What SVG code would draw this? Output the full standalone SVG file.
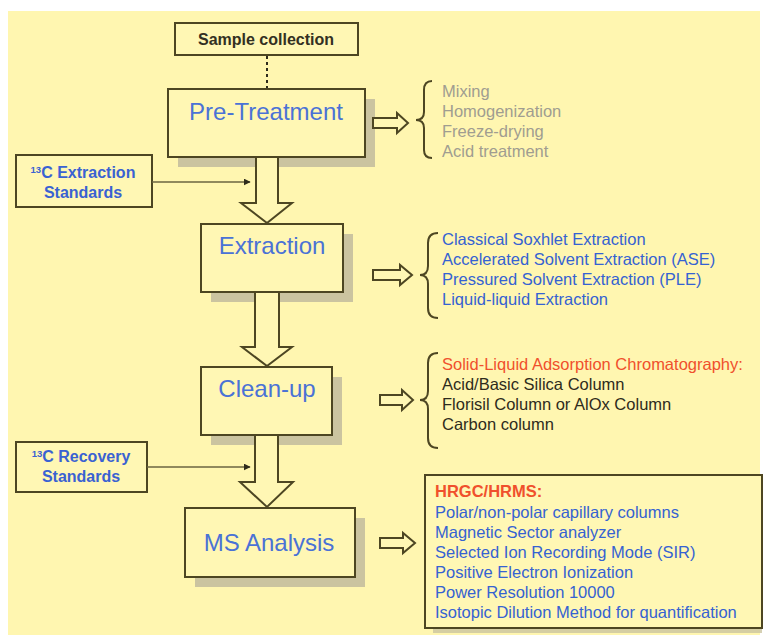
<svg xmlns="http://www.w3.org/2000/svg" width="765" height="643" viewBox="0 0 765 643">
<defs>
<style>
.bg{fill:#fff6b0}
.box{fill:#fff7b4;stroke:#4d4622;stroke-width:2}
.sh{fill:#cbc4a0}
.hollow{fill:#fff7b4;stroke:#4d4622;stroke-width:2;stroke-linejoin:miter}
.brace{fill:none;stroke:#4d4622;stroke-width:2}
.title{font-family:"Liberation Sans",Arial,sans-serif;font-size:24px;fill:#4a72d6;text-anchor:middle}
.std{font-family:"Liberation Sans",Arial,sans-serif;font-size:16px;font-weight:bold;fill:#3a62d2;text-anchor:middle}
.li{font-family:"Liberation Sans",Arial,sans-serif;font-size:16.5px}
.gray{fill:#a09d90}
.blue{fill:#3562d2}
.dark{fill:#2e2b1c}
.red{fill:#f0502c}
.thin{stroke:#6b6540;stroke-width:1.3;fill:none}
</style>
<marker id="ah" viewBox="0 0 10 10" refX="9" refY="5" markerWidth="7" markerHeight="7" orient="auto" markerUnits="userSpaceOnUse">
<path d="M0,0 L10,5 L0,10 Z" fill="#2e2b1c"/>
</marker>
</defs>
<rect x="0" y="0" width="765" height="643" fill="#ffffff"/>
<rect class="bg" x="8" y="11" width="752" height="624"/>

<g id="sample-collection">
<rect class="box" x="175" y="23" width="183" height="32"/>
<text x="266" y="45" font-family="'Liberation Sans',Arial,sans-serif" font-size="16" font-weight="bold" fill="#333022" text-anchor="middle">Sample collection</text>
</g>

<g id="pre-treatment">
<rect class="sh" x="178" y="99" width="197" height="68"/>
<rect class="box" x="168" y="89" width="197" height="68"/>
<text class="title" x="266" y="120">Pre-Treatment</text>
</g>

<g id="extraction">
<rect class="sh" x="211" y="234" width="142" height="68"/>
<rect class="box" x="201" y="224" width="142" height="68"/>
<text class="title" x="272" y="254">Extraction</text>
</g>

<g id="clean-up">
<rect class="sh" x="211" y="377" width="131" height="68"/>
<rect class="box" x="201" y="367" width="131" height="68"/>
<text class="title" x="267" y="397">Clean-up</text>
</g>

<g id="ms-analysis">
<rect class="sh" x="195" y="518" width="170" height="69"/>
<rect class="box" x="185" y="508" width="170" height="69"/>
<text class="title" x="269" y="551">MS Analysis</text>
</g>

<g id="extraction-standards">
<rect class="box" x="16" y="155" width="136" height="52"/>
<text class="std" x="83" y="178"><tspan font-size="9.5" dy="-5">13</tspan><tspan dy="5">C Extraction</tspan></text>
<text class="std" x="83" y="198">Standards</text>
</g>

<g id="recovery-standards">
<rect class="box" x="16" y="442" width="131" height="50"/>
<text class="std" x="81" y="462"><tspan font-size="9.5" dy="-5">13</tspan><tspan dy="5">C Recovery</tspan></text>
<text class="std" x="81" y="482">Standards</text>
</g>

<g id="pretreatment-list">
<path class="brace" d="M432,81 Q424,81 424,90 L424,112 Q424,120 416,120 Q424,120 424,128 L424,150 Q424,158 432,158"/>
<text class="li gray" x="442" y="97">Mixing</text>
<text class="li gray" x="442" y="117">Homogenization</text>
<text class="li gray" x="442" y="137">Freeze-drying</text>
<text class="li gray" x="442" y="157">Acid treatment</text>
</g>

<g id="extraction-list">
<path class="brace" d="M438,233 Q428,233 428,243 L428,266 Q428,275 420,275 Q428,275 428,284 L428,308 Q428,318 438,318"/>
<text class="li blue" x="442" y="245">Classical Soxhlet Extraction</text>
<text class="li blue" x="442" y="265">Accelerated Solvent Extraction (ASE)</text>
<text class="li blue" x="442" y="285">Pressured Solvent Extraction (PLE)</text>
<text class="li blue" x="442" y="305">Liquid-liquid Extraction</text>
</g>

<g id="cleanup-list">
<path class="brace" d="M438,353 Q428,353 428,363 L428,391 Q428,400 420,400 Q428,400 428,409 L428,438 Q428,448 438,448"/>
<text class="li red" x="442" y="370">Solid-Liquid Adsorption Chromatography:</text>
<text class="li dark" x="442" y="390">Acid/Basic Silica Column</text>
<text class="li dark" x="442" y="410">Florisil Column or AlOx Column</text>
<text class="li dark" x="442" y="430">Carbon column</text>
</g>

<g id="hrgc-hrms">
<rect class="sh" x="433" y="483" width="329" height="150" opacity="0.8"/>
<rect class="box" x="425" y="475" width="337" height="153"/>
<text class="li red" x="435" y="497" font-weight="bold" font-size="17">HRGC/HRMS:</text>
<text class="li blue" x="435" y="518">Polar/non-polar capillary columns</text>
<text class="li blue" x="435" y="538">Magnetic Sector analyzer</text>
<text class="li blue" x="435" y="558">Selected Ion Recording Mode (SIR)</text>
<text class="li blue" x="435" y="578">Positive Electron Ionization</text>
<text class="li blue" x="435" y="598">Power Resolution 10000</text>
<text class="li blue" x="435" y="618">Isotopic Dilution Method for quantification</text>
</g>

<g id="connectors">
<line x1="267" y1="56" x2="267" y2="88" stroke="#2e2b1c" stroke-width="2" stroke-dasharray="3,3"/>
<path class="hollow" d="M256,158 L256,203 L241,203 L267,223 L292,203 L278,203 L278,158"/>
<path class="hollow" d="M255,293 L255,347 L242,347 L267,366 L292,347 L279,347 L279,293"/>
<path class="hollow" d="M255,436 L255,482 L240,482 L267,507 L293,482 L278,482 L278,436"/>
<line class="thin" x1="152" y1="182" x2="250" y2="182" marker-end="url(#ah)"/>
<line class="thin" x1="147" y1="467" x2="250" y2="467" marker-end="url(#ah)"/>
<path class="hollow" d="M373,118 L397,118 L397,113 L408,123 L397,133 L397,128 L373,128 Z"/>
<path class="hollow" d="M373,270 L400,270 L400,265 L412,275 L400,285 L400,280 L373,280 Z"/>
<path class="hollow" d="M380,395 L402,395 L402,390 L413,400 L402,410 L402,405 L380,405 Z"/>
<path class="hollow" d="M380,538 L403,538 L403,533 L415,543 L403,553 L403,548 L380,548 Z"/>
</g>
</svg>
